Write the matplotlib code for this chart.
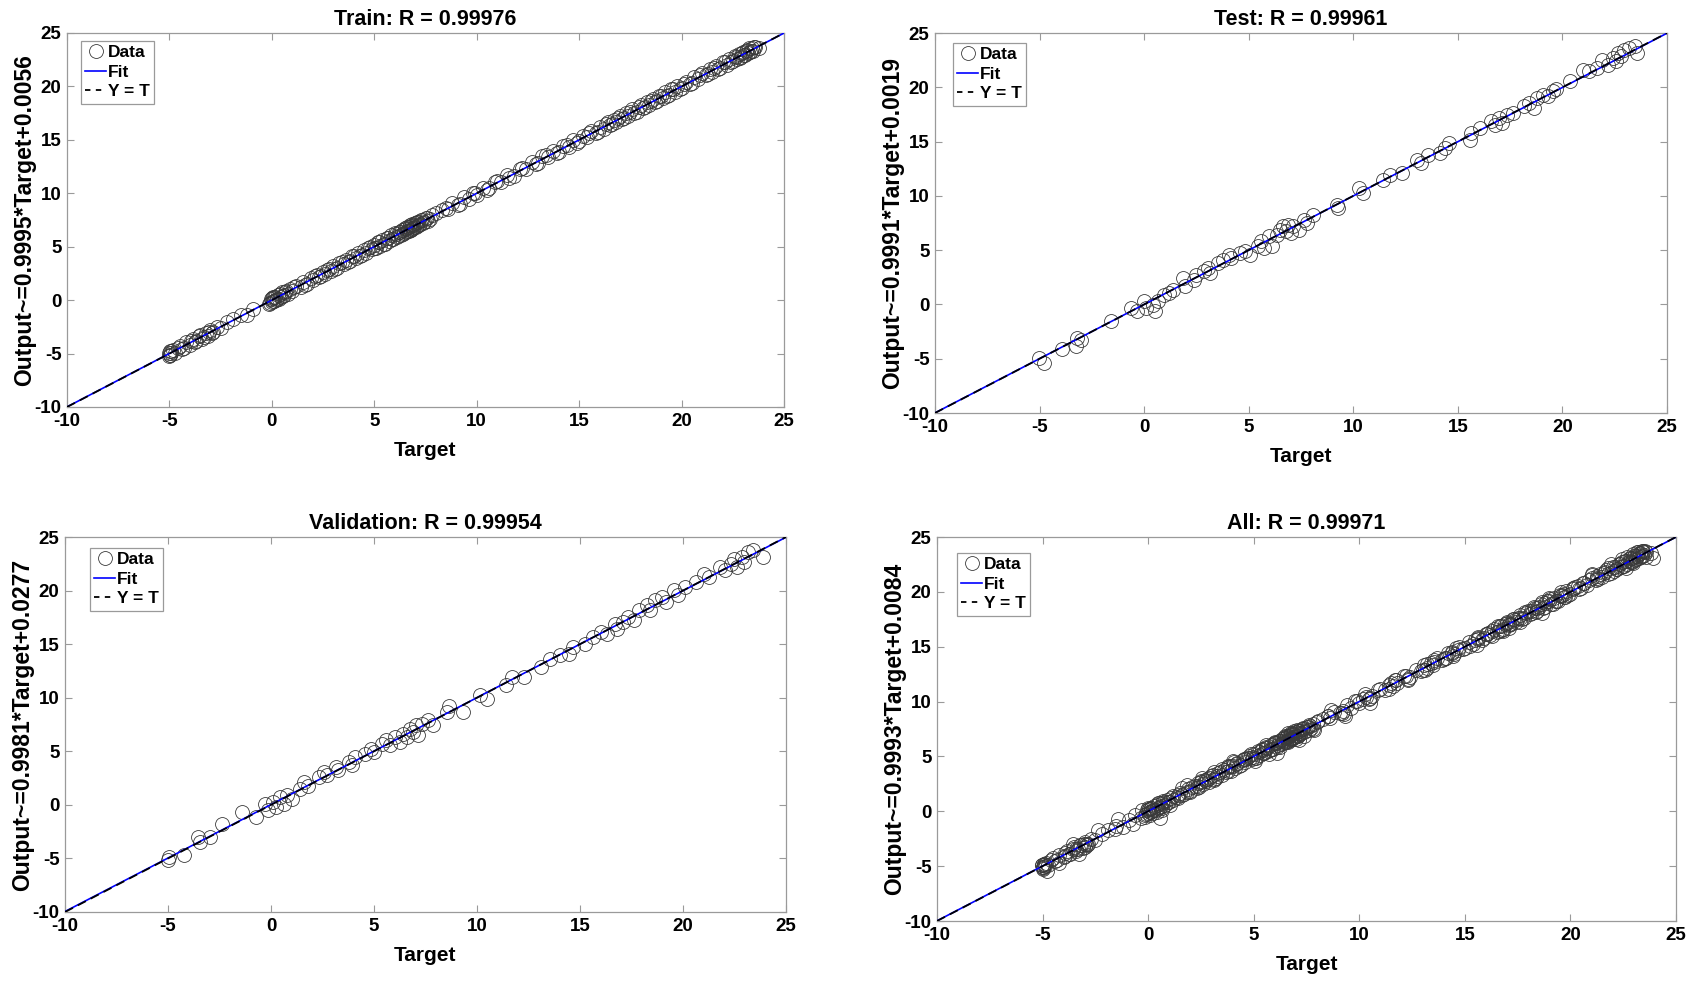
import numpy as np
import matplotlib
matplotlib.use("Agg")
import matplotlib.pyplot as plt
from matplotlib.lines import Line2D

plt.rcParams['font.family'] = ['Liberation Sans', 'DejaVu Sans']
plt.rcParams['font.weight'] = 'bold'
plt.rcParams['axes.unicode_minus'] = False

# ---------------- data ----------------
train_target = [
    -5.02, -4.98, -4.95, -5.00, -4.90, -4.85,
    -4.60, -4.40, -4.20, -4.00, -3.85, -3.70, -3.50, -3.40, -3.20, -3.10, -3.00, -2.90, -2.70, -2.50,
    -2.20, -1.90, -1.50, -1.20, -0.90,
    -0.15, -0.05, 0.00, 0.05, 0.10, 0.15, 0.20, 0.30, 0.35, 0.45, 0.50, 0.60, 0.70, 0.80, 0.90, 1.00,
    1.20, 1.40, 1.50, 1.70, 1.90, 2.00, 2.20, 2.30, 2.50, 2.60, 2.80, 2.90, 3.00, 3.20, 3.30, 3.50, 3.60, 3.80, 3.90,
    4.10, 4.20, 4.40, 4.50, 4.60, 4.80, 4.90, 5.00, 5.10, 5.20, 5.30, 5.40, 5.50, 5.60, 5.70, 5.80, 5.90, 6.00,
    6.10, 6.20, 6.30, 6.35, 6.40, 6.50, 6.55, 6.60, 6.70, 6.75, 6.80, 6.85, 6.90, 7.00, 7.05, 7.10, 7.20, 7.30,
    7.40, 7.50, 7.60, 7.80, 8.00,
    8.30, 8.60, 8.80, 9.20, 9.40, 9.60, 9.80, 10.00,
    10.30, 10.60, 10.90, 11.20, 11.50, 11.80, 12.10, 12.40, 12.70, 13.00, 13.20, 13.50, 13.70, 14.00, 14.20,
    14.50, 14.70, 14.90,
    15.20, 15.40, 15.60, 15.80, 16.00, 16.20, 16.40, 16.50, 16.70, 16.80, 17.00, 17.10, 17.30, 17.40, 17.60,
    17.80, 18.00, 18.10, 18.30, 18.40, 18.60, 18.80, 18.90, 19.10, 19.20, 19.40, 19.50, 19.70, 19.80, 20.00,
    20.20, 20.40, 20.60, 20.80, 21.00, 21.20, 21.40, 21.50, 21.70, 21.90, 22.00, 22.20, 22.30, 22.50, 22.60,
    22.70, 22.80, 22.90, 23.00, 23.10, 23.20, 23.25, 23.30, 23.40, 23.45, 23.50, 23.60, 23.80,
    -4.97, -4.93, -4.75, -4.50, -4.30, -3.95, -3.75, -3.55, -3.30, -3.05, -2.85, -0.10, 0.02, 0.08, 0.12,
    0.25, 0.40, 0.55, 0.65, 1.10, 1.60, 2.10, 2.40, 2.70, 3.10, 3.40, 3.70, 4.00, 4.30, 4.70,
    5.05, 5.25, 5.45, 5.65, 5.85, 6.05, 6.15, 6.25, 6.45, 6.52, 6.62, 6.68, 6.72, 6.78, 6.82,
    6.88, 6.95, 7.02, 7.08, 7.15, 7.25, 7.35, 7.45, 7.55, 7.70, 8.50, 9.10, 9.90, 10.50, 11.00,
    11.60, 12.20, 12.90, 13.40, 13.90, 14.40, 15.00, 15.50, 15.90, 16.30, 16.60, 16.90, 17.20, 17.50, 17.70,
    17.90, 18.20, 18.50, 18.70, 19.00, 19.30, 19.60, 19.90, 20.10, 20.50, 20.90, 21.30, 21.60, 21.80, 22.10,
    22.40, 22.65, 22.85, 22.95, 23.05, 23.15, 23.35, 23.55,
]
train_output = [
    -4.90, -5.12, -4.78, -5.25, -4.95, -4.70,
    -4.45, -4.55, -3.95, -4.20, -3.60, -3.85, -3.30, -3.60, -3.05, -3.35, -2.80, -3.10, -2.55, -2.65,
    -2.05, -1.75, -1.35, -1.40, -0.80,
    -0.35, 0.10, -0.20, 0.25, -0.10, 0.30, 0.05, 0.50, 0.15, 0.30, 0.75, 0.45, 0.90, 0.60, 1.05, 0.85,
    1.35, 1.25, 1.70, 1.55, 2.05, 1.85, 2.35, 2.15, 2.65, 2.45, 2.95, 2.70, 3.20, 3.05, 3.50, 3.35, 3.80, 3.65, 4.10,
    3.95, 4.40, 4.25, 4.70, 4.45, 5.00, 4.75, 5.20, 4.90, 5.45, 5.10, 5.60, 5.30, 5.85, 5.50, 6.05, 5.70, 6.25,
    5.90, 6.40, 6.10, 6.60, 6.20, 6.75, 6.35, 6.85, 6.50, 7.00, 6.60, 7.10, 6.75, 7.25, 6.85, 7.35, 7.00, 7.50,
    7.20, 7.70, 7.45, 7.95, 8.15,
    8.45, 8.50, 9.05, 9.00, 9.65, 9.45, 10.05, 9.85,
    10.45, 10.50, 11.10, 11.05, 11.70, 11.65, 12.30, 12.25, 12.90, 12.85, 13.45, 13.35, 13.95, 13.85, 14.45,
    14.35, 14.95, 14.75,
    15.40, 15.25, 15.85, 15.65, 16.20, 16.05, 16.65, 16.35, 16.90, 16.65, 17.25, 16.95, 17.50, 17.25, 17.85,
    17.60, 18.25, 17.95, 18.50, 18.25, 18.85, 18.60, 19.15, 18.90, 19.45, 19.20, 19.75, 19.50, 20.05, 19.85,
    20.40, 20.25, 20.85, 20.65, 21.25, 21.05, 21.65, 21.35, 21.95, 21.75, 22.25, 22.05, 22.55, 22.35, 22.85,
    22.55, 23.05, 22.75, 23.25, 22.95, 23.45, 23.10, 23.55, 23.30, 23.60, 23.35, 23.65, 23.55,
    -5.10, -4.80, -4.90, -4.30, -4.45, -3.80, -3.90, -3.40, -3.45, -2.95, -3.00, -0.25, 0.20, -0.05, 0.30,
    0.10, 0.55, 0.40, 0.80, 1.25, 1.45, 2.25, 2.25, 2.85, 2.95, 3.55, 3.55, 4.15, 4.15, 4.85,
    4.90, 5.40, 5.30, 5.80, 5.70, 6.20, 6.00, 6.40, 6.30, 6.70, 6.45, 6.85, 6.55, 6.95, 6.65,
    7.05, 6.80, 7.20, 6.90, 7.30, 7.10, 7.50, 7.30, 7.70, 7.55, 8.65, 8.95, 10.05, 10.35, 11.15,
    11.45, 12.35, 12.75, 13.55, 13.75, 14.55, 14.85, 15.65, 15.75, 16.45, 16.45, 17.05, 17.05, 17.65, 17.55,
    18.05, 18.05, 18.65, 18.55, 19.15, 19.15, 19.75, 19.75, 20.25, 20.35, 21.05, 21.15, 21.75, 21.65, 22.25,
    22.25, 22.80, 22.70, 23.10, 22.90, 23.30, 23.20, 23.70,
]

test_target = [
    -5.02, -4.81, -3.93, -3.26, -3.21, -3.00, -1.58, -0.62, -0.36, 0.00, 0.10, 0.41, 0.54, 0.67, 0.93,
    1.19, 1.37, 1.84, 1.97, 2.36, 2.49, 2.87, 3.05, 3.13, 3.52, 3.78, 4.04, 4.17, 4.56, 4.81,
    5.07, 5.46, 5.59, 5.72, 5.98, 6.11, 6.37, 6.50, 6.63, 6.76, 6.89, 7.02, 7.14, 7.40, 7.66,
    7.79, 8.05, 9.22, 9.29, 10.25, 10.46, 11.42, 11.75, 12.32, 13.05, 13.23, 13.56, 14.13, 14.39, 14.60,
    15.56, 15.64, 16.08, 16.59, 16.77, 16.98, 17.11, 17.37, 17.63, 18.15, 18.41, 18.66, 18.79, 19.05, 19.31,
    19.57, 19.70, 20.35, 21.00, 21.25, 21.64, 21.90, 22.16, 22.42, 22.55, 22.68, 22.81, 22.94, 23.19, 23.45,
    23.58,
]
test_output = [
    -4.94, -5.40, -4.11, -3.87, -3.10, -3.25, -1.57, -0.34, -0.64, 0.28, -0.34, -0.03, -0.64, 0.28, 0.89,
    1.04, 1.29, 2.43, 1.72, 2.27, 2.73, 3.04, 3.35, 2.89, 3.81, 4.11, 4.57, 4.27, 4.73, 4.88,
    4.57, 5.34, 5.80, 5.19, 6.26, 5.34, 6.42, 6.88, 7.18, 6.72, 7.34, 6.57, 7.18, 6.88, 7.80,
    7.49, 8.26, 9.18, 8.87, 10.72, 10.26, 11.48, 11.94, 12.10, 13.32, 13.02, 13.79, 13.94, 14.40, 14.86,
    15.17, 15.78, 16.24, 16.86, 16.55, 17.16, 16.70, 17.47, 17.62, 18.24, 18.54, 18.08, 19.00, 19.31, 19.16,
    19.62, 19.83, 20.54, 21.62, 21.46, 21.77, 22.54, 22.08, 22.69, 22.38, 23.15, 22.84, 23.46, 23.61, 23.76,
    23.15,
]

val_target = [
    -5.00, -4.93, -4.22, -3.56, -3.43, -2.96, -2.38, -1.41, -0.72, -0.28, -0.15, 0.12, 0.25, 0.46, 0.64,
    0.77, 1.04, 1.43, 1.61, 1.82, 2.35, 2.56, 2.74, 3.14, 3.27, 3.79, 3.92, 4.06, 4.58, 4.85,
    4.98, 5.37, 5.56, 5.77, 6.03, 6.24, 6.42, 6.61, 6.77, 6.90, 7.03, 7.13, 7.34, 7.60, 7.87,
    8.53, 8.66, 9.32, 10.16, 10.50, 11.42, 11.69, 12.29, 13.13, 13.53, 14.05, 14.45, 14.66, 15.24, 15.63,
    16.03, 16.29, 16.68, 16.82, 17.08, 17.34, 17.60, 17.86, 18.26, 18.39, 18.65, 18.97, 19.18, 19.57, 19.75,
    20.10, 20.62, 21.01, 21.28, 21.80, 22.06, 22.33, 22.46, 22.64, 22.85, 22.98, 23.17, 23.38, 23.90,
]
val_output = [
    -5.18, -4.87, -4.72, -3.00, -3.47, -3.00, -1.75, -0.66, -1.13, 0.11, -0.51, 0.27, -0.20, 0.74, 0.11,
    0.89, 0.58, 1.51, 2.14, 1.73, 2.60, 3.07, 2.76, 3.54, 3.22, 4.00, 3.69, 4.47, 4.78, 5.25,
    4.94, 5.71, 6.02, 5.56, 6.34, 5.87, 6.65, 6.34, 7.11, 6.80, 7.42, 6.49, 7.58, 7.89, 7.42,
    8.67, 9.20, 8.67, 10.22, 9.91, 11.15, 11.93, 11.93, 12.87, 13.64, 13.95, 14.11, 14.73, 15.04, 15.67,
    16.13, 15.98, 16.91, 16.44, 17.07, 17.53, 17.22, 18.16, 18.62, 18.16, 19.09, 19.40, 18.93, 20.02, 19.56,
    20.33, 20.80, 21.58, 21.27, 22.20, 21.89, 22.51, 22.98, 22.20, 23.13, 22.67, 23.60, 23.76, 23.13,
]

panel_names = ["Train", "Test", "Validation", "All"]
r_values = ["0.99976", "0.99961", "0.99954", "0.99971"]
slopes = [0.9995, 0.9991, 0.9981, 0.9993]
intercepts = [0.0056, 0.0019, 0.0277, 0.0084]
slope_text = ["0.9995", "0.9991", "0.9981", "0.9993"]
intercept_text = ["0.0056", "0.0019", "0.0277", "0.0084"]
ticks = [-10, -5, 0, 5, 10, 15, 20, 25]
legend_labels = ["Data", "Fit", "Y = T"]

all_target = train_target + val_target + test_target
all_output = train_output + val_output + test_output
targets = [train_target, test_target, val_target, all_target]
outputs = [train_output, test_output, val_output, all_output]

# ---------------- layout (pixel boxes) ----------------
W, H = 1698, 985
boxes = [(67, 33, 784, 407), (935, 33, 1667, 413), (65, 537, 786, 912), (937, 537, 1676, 921)]
leg_off = [(14, 8), (18, 10), (25, 11), (20, 16)]

fig = plt.figure(figsize=(W / 100, H / 100), dpi=100)
gray = '#9a9a9a'
mcol = '#3a3a3a'

for i in range(4):
    x0, y0, x1, y1 = boxes[i]
    ax = fig.add_axes([x0 / W, 1 - y1 / H, (x1 - x0) / W, (y1 - y0) / H])
    ax.plot(targets[i], outputs[i], linestyle='none', marker='o', ms=10,
            mfc='none', mec=mcol, mew=0.6, zorder=2)
    xl = np.array([ticks[0], ticks[-1]], dtype=float)
    ax.plot(xl, slopes[i] * xl + intercepts[i], color='#0000ff', lw=1.2, zorder=3)
    ax.plot(xl, xl, color='black', lw=1.3, ls=(0, (5, 3)), zorder=4)
    ax.set_xlim(ticks[0], ticks[-1])
    ax.set_ylim(ticks[0], ticks[-1])
    ax.set_xticks(ticks)
    ax.set_yticks(ticks)
    ax.tick_params(direction='in', top=True, right=True, length=5, width=0.8,
                   color=gray, labelsize=13.5, pad=4)
    for lab in ax.get_xticklabels() + ax.get_yticklabels():
        lab.set_fontweight('bold')
    for s in ax.spines.values():
        s.set_color(gray)
        s.set_linewidth(0.9)
    ax.set_title(f"{panel_names[i]}: R = {r_values[i]}", fontsize=15.5, fontweight='bold', pad=6)
    ax.set_xlabel("Target", fontsize=15, fontweight='bold', labelpad=8)
    ax.set_ylabel(f"Output~={slope_text[i]}*Target+{intercept_text[i]}", fontsize=16.5,
                  fontweight='bold', labelpad=-1)
    handles = [
        Line2D([], [], linestyle='none', marker='o', ms=10, mfc='none', mec=mcol, mew=0.6),
        Line2D([], [], color='#0000ff', lw=1.2),
        Line2D([], [], color='black', lw=1.3, ls=(0, (3, 3))),
    ]
    axw, axh = x1 - x0, y1 - y0
    lx, ly = leg_off[i]
    leg = ax.legend(handles, legend_labels, loc='upper left',
                    bbox_to_anchor=(lx / axw, 1 - ly / axh), borderaxespad=0,
                    fancybox=False, framealpha=1, edgecolor=gray,
                    prop={'size': 12.5, 'weight': 'bold'}, handlelength=1.2,
                    handletextpad=0.1, labelspacing=0.25, borderpad=0.25)
    leg.get_frame().set_linewidth(0.9)

fig.savefig("out.png", dpi=100, facecolor='white')
